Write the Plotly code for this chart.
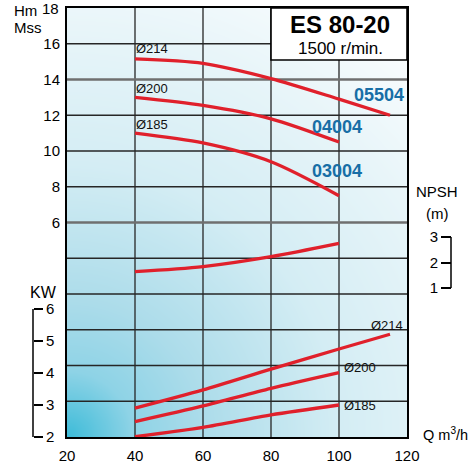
import numpy as np
import plotly.graph_objects as go

# ---- pump ES 80-20, 1500 r/min ----
flow_ticks = [20, 40, 60, 80, 100, 120]
head_ticks = [6, 8, 10, 12, 14, 16, 18]
kw_ticks = [2, 3, 4, 5, 6]
npsh_ticks = [1, 2, 3]

# head curves (m) per impeller
q_05504 = [40, 60, 80, 100, 115]
h_05504 = [15.15, 14.9, 14.05, 12.9, 12.0]
q_04004 = [40, 60, 80, 100]
h_04004 = [13.0, 12.55, 11.8, 10.5]
q_03004 = [40, 60, 80, 100]
h_03004 = [11.0, 10.45, 9.4, 7.5]

# NPSH (m)
q_npsh = [40, 60, 80, 100]
npsh = [1.64, 1.84, 2.23, 2.75]

# absorbed power (kW) per impeller diameter
q_p214 = [40, 60, 80, 100, 115]
p_214 = [2.9, 3.47, 4.12, 4.75, 5.21]
q_p200 = [40, 60, 80, 100]
p_200 = [2.48, 2.97, 3.52, 4.01]
q_p185 = [40, 60, 80, 100]
p_185 = [2.01, 2.3, 2.69, 3.0]

model_names = ["05504", "04004", "03004"]
diameters = ["Ø214", "Ø200", "Ø185"]

W, H = 470, 464
ML, MR, MT, MB = 20, 15, 8, 27
PW = W - ML - MR
PH = H - MT - MB
X0_PX, X1_PX = 67, 407


def px(xp, yp):
    return (xp - ML) / PW, (H - MB - yp) / PH


SANS = "Liberation Sans"
RED = "#e0202b"
BLUE = "#176ea6"

fig = go.Figure()

# background shading: cyan in the low-left corner fading to white
gx = np.linspace(20, 120, 61)
gy = np.linspace(-6, 18, 73)
GX, GY = np.meshgrid(gx, gy)
dist = np.sqrt(((GX - 20) * 3.4) ** 2 + ((GY + 6) * 17.875) ** 2) / 547.0
fig.add_trace(go.Heatmap(
    x=gx, y=gy, z=dist, zmin=0, zmax=1, zsmooth="best", showscale=False,
    hoverinfo="skip",
    colorscale=[[0, "#3cbbd8"], [0.12, "#8ed3e6"], [0.25, "#acdcea"],
                [0.5, "#d4edf4"], [0.75, "#e8f5f9"], [1, "#ffffff"]],
))

# grid
gxs, gys = [], []
for v in [40, 60, 80, 100]:
    gxs += [v, v, None]
    gys += [-6, 18, None]
for v in [-4, -2, 0, 2, 4, 8, 10, 12, 16]:
    gxs += [20, 120, None]
    gys += [v, v, None]
fig.add_trace(go.Scatter(x=gxs, y=gys, mode="lines", hoverinfo="skip",
                         line=dict(color="#262626", width=1.3), showlegend=False))
hx, hy = [], []
for v in [6, 14]:
    hx += [20, 120, None]
    hy += [v, v, None]
fig.add_trace(go.Scatter(x=hx, y=hy, mode="lines", hoverinfo="skip",
                         line=dict(color="#6f6f6f", width=2.6), showlegend=False))

line_style = dict(color=RED, width=3.3, shape="spline", smoothing=0.8)

for q, h in [(q_05504, h_05504), (q_04004, h_04004), (q_03004, h_03004)]:
    fig.add_trace(go.Scatter(x=q, y=h, mode="lines", line=line_style,
                             showlegend=False, hoverinfo="skip"))

fig.add_trace(go.Scatter(x=q_npsh, y=npsh, mode="lines", line=line_style,
                         yaxis="y3", showlegend=False, hoverinfo="skip"))

for q, p in [(q_p214, p_214), (q_p200, p_200), (q_p185, p_185)]:
    fig.add_trace(go.Scatter(x=q, y=p, mode="lines", line=line_style,
                             yaxis="y2", showlegend=False, hoverinfo="skip"))

ann = []


def text(s, xp, yp, size, xanchor="center", bold=False, color="black"):
    x, y = px(xp, yp)
    ann.append(dict(text=f"<b>{s}</b>" if bold else s, x=x, y=y, xref="paper", yref="paper",
                    xanchor=xanchor, yanchor="middle", showarrow=False,
                    font=dict(size=size, family=SANS, color=color)))


text("Hm", 12, 11, 15, xanchor="left")
text("Mss", 12, 28, 15, xanchor="left")
text("KW", 43.5, 292, 16)
text("NPSH", 437, 191, 15)
text("(m)", 437.5, 214, 15)
text("Q m<sup>3</sup>/h", 421, 434, 14.5, xanchor="left")
text("ES 80-20", 340, 25, 24, bold=True)
text("1500 r/min.", 340, 48.5, 17)

# top head value sits on the plot's upper edge
ann.append(dict(text=str(head_ticks[-1]), x=flow_ticks[0], y=head_ticks[-1], xref="x", yref="y",
                xanchor="right", yanchor="middle", xshift=-6, showarrow=False,
                font=dict(size=15, family=SANS, color="black")))

# diameter labels on head curves
for lab, q, yv in zip(diameters, [q_05504[0], q_04004[0], q_03004[0]], [15.75, 13.52, 11.5]):
    ann.append(dict(text=lab, x=q, y=yv, xref="x", yref="y", xanchor="left", yanchor="middle",
                    xshift=-1, showarrow=False, font=dict(size=13, family=SANS, color="#111")))
# diameter labels on power curves
for lab, q, yv in zip(diameters, [108.9, 101, 101], [5.5, 4.17, 3.0]):
    ann.append(dict(text=lab, x=q, y=yv, xref="x", yref="y2", xanchor="left", yanchor="middle",
                    showarrow=False, font=dict(size=13, family=SANS, color="#111")))
# model labels
for lab, q, yv in zip(model_names, [111.85, 99.5, 99.5], [13.13, 11.34, 8.88]):
    ann.append(dict(text=f"<b>{lab}</b>", x=q, y=yv, xref="x", yref="y", xanchor="center",
                    yanchor="middle", showarrow=False,
                    font=dict(size=18, family=SANS, color=BLUE)))

kw_pos = (33 - ML) / PW
npsh_pos = (451 - ML) / PW

shapes = [
    # title box
    dict(type="rect", xref="x", yref="y", x0=80, x1=120, y0=15.09, y1=18,
         fillcolor="white", line=dict(color="black", width=1.6), layer="above"),
    # KW bracket
    dict(type="line", xref="paper", yref="y2", x0=kw_pos, x1=kw_pos, y0=2, y1=6,
         line=dict(color="black", width=1.5)),
    # NPSH bracket
    dict(type="line", xref="paper", yref="y3", x0=npsh_pos, x1=npsh_pos, y0=1, y1=3,
         line=dict(color="black", width=1.5)),
]

fig.update_layout(
    width=W, height=H,
    margin=dict(l=ML, r=MR, t=MT, b=MB, pad=0, autoexpand=False),
    paper_bgcolor="white", plot_bgcolor="white",
    showlegend=False,
    font=dict(family=SANS),
    annotations=ann, shapes=shapes,
    xaxis=dict(domain=[(X0_PX - ML) / PW, (X1_PX - ML) / PW], range=[20, 120],
               tickvals=flow_ticks, showgrid=False, zeroline=False, automargin=False,
               showline=True, mirror=True, linecolor="black", linewidth=2,
               ticks="", ticklabelstandoff=4,
               tickfont=dict(size=15, family=SANS, color="black")),
    yaxis=dict(range=[-6, 18], tickvals=head_ticks[:-1], showgrid=False, zeroline=False,
               automargin=False,
               showline=True, mirror=True, linecolor="black", linewidth=2,
               ticks="", ticklabelstandoff=2,
               tickfont=dict(size=15, family=SANS, color="black")),
    yaxis2=dict(overlaying="y", anchor="free", position=kw_pos, side="right",
                automargin=False,
                range=[2, 2 + 429 / 32], tickvals=kw_ticks, showgrid=False, zeroline=False,
                showline=False, ticks="outside", ticklen=9, tickwidth=1.5, tickcolor="black",
                tickfont=dict(size=15, family=SANS, color="black")),
    yaxis3=dict(overlaying="y", anchor="free", position=npsh_pos, side="left",
                automargin=False,
                range=[-4.843, 11.98], tickvals=npsh_ticks, showgrid=False, zeroline=False,
                showline=False, ticks="outside", ticklen=10, tickwidth=1.5, tickcolor="black",
                tickfont=dict(size=15, family=SANS, color="black")),
)

fig.write_html("out.html")
